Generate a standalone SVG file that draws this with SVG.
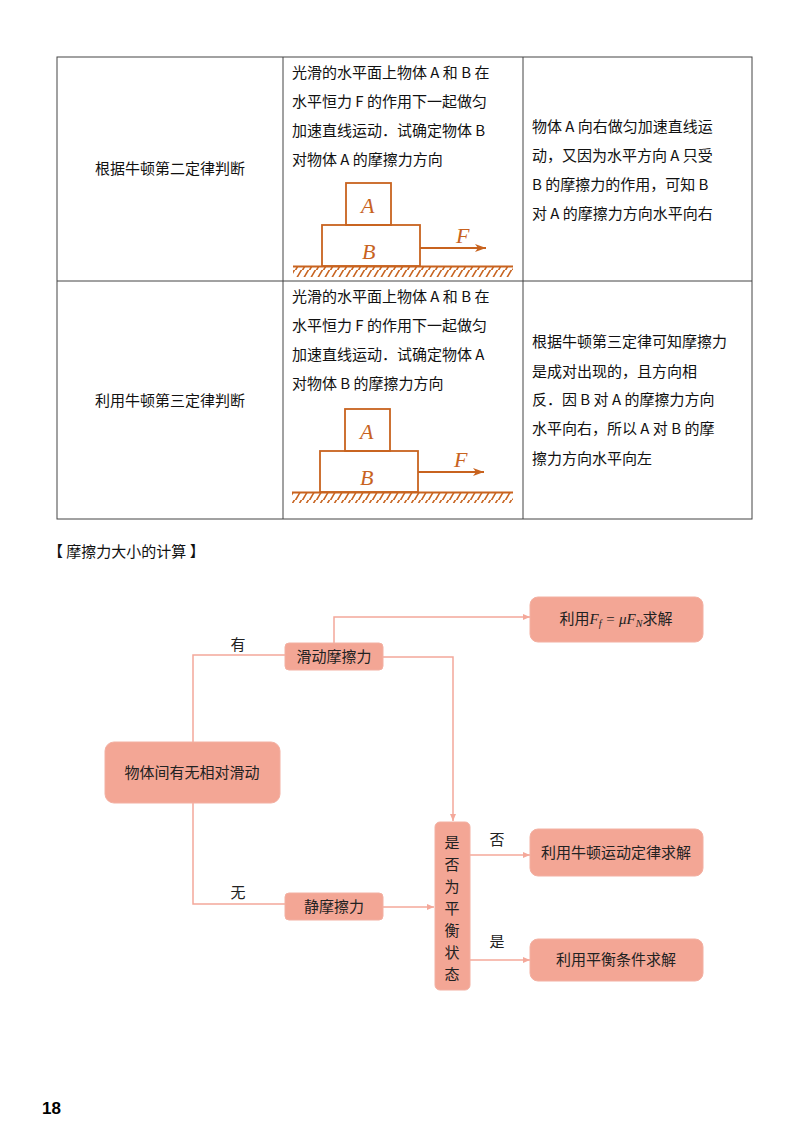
<svg xmlns="http://www.w3.org/2000/svg" width="800" height="1130" viewBox="0 0 800 1130">
<defs>
<style>
.t{font-family:"Noto Sans CJK SC","Liberation Sans",sans-serif;font-size:15px;fill:#111}
.hw{font-family:"Noto Sans CJK SC",sans-serif;font-size:15px;fill:#222}
.box{fill:#f3a695;stroke:#f3b0a2;stroke-width:1}
.ln{fill:none;stroke:#f4a89a;stroke-width:1.5}
.or{fill:none;stroke:#c8631f;stroke-width:1.8}
.it{font-family:"Liberation Serif",serif;font-style:italic;font-size:22px;fill:#c8631f}
.tb{fill:none;stroke:#444;stroke-width:1}
</style>
<marker id="ar" markerWidth="8" markerHeight="8" refX="7" refY="4" orient="auto" markerUnits="userSpaceOnUse"><path d="M0,1 L7,4 L0,7 Z" fill="#f4a89a"/></marker>
<marker id="oa" markerWidth="12" markerHeight="10" refX="11" refY="5" orient="auto" markerUnits="userSpaceOnUse"><path d="M0,1 L11,5 L0,9 L3,5 Z" fill="#c8631f"/></marker>
<pattern id="hatch" width="7" height="10" patternUnits="userSpaceOnUse"><path d="M8,-1 L1,11 M1,-1 L-6,11" stroke="#c8631f" stroke-width="1.6"/></pattern>
</defs>
<rect width="800" height="1130" fill="#fff"/>
<g id="table">
<rect class="tb" x="57" y="57" width="695" height="462"/>
<line class="tb" x1="57" y1="281" x2="752" y2="281"/>
<line class="tb" x1="283" y1="57" x2="283" y2="519"/>
<line class="tb" x1="523" y1="57" x2="523" y2="519"/>
<text class="t" x="170" y="174" text-anchor="middle">根据牛顿第二定律判断</text>
<text class="t" x="170" y="406" text-anchor="middle">利用牛顿第三定律判断</text>
<text class="t" x="292" y="78">光滑的水平面上物体 A 和 B 在</text>
<text class="t" x="292" y="107">水平恒力 F 的作用下一起做匀</text>
<text class="t" x="292" y="136">加速直线运动．试确定物体 B</text>
<text class="t" x="292" y="165">对物体 A 的摩擦力方向</text>
<text class="t" x="532" y="132">物体 A 向右做匀加速直线运</text>
<text class="t" x="532" y="161">动，又因为水平方向 A 只受</text>
<text class="t" x="532" y="190">B 的摩擦力的作用，可知 B</text>
<text class="t" x="532" y="219">对 A 的摩擦力方向水平向右</text>
<text class="t" x="292" y="302">光滑的水平面上物体 A 和 B 在</text>
<text class="t" x="292" y="331">水平恒力 F 的作用下一起做匀</text>
<text class="t" x="292" y="360">加速直线运动．试确定物体 A</text>
<text class="t" x="292" y="389">对物体 B 的摩擦力方向</text>
<text class="t" x="532" y="347">根据牛顿第三定律可知摩擦力</text>
<text class="t" x="532" y="377">是成对出现的，且方向相</text>
<text class="t" x="532" y="405">反．因 B 对 A 的摩擦力方向</text>
<text class="t" x="532" y="434">水平向右，所以 A 对 B 的摩</text>
<text class="t" x="532" y="464">擦力方向水平向左</text>
</g>
<g id="fig1">
<rect class="or" x="346" y="183" width="45" height="42"/>
<rect class="or" x="322" y="225" width="98" height="41"/>
<rect x="293" y="267" width="220" height="10" fill="url(#hatch)"/>
<line class="or" x1="293" y1="266.5" x2="513" y2="266.5"/>
<line class="or" x1="420" y1="248" x2="486" y2="248" marker-end="url(#oa)"/>
<text class="it" x="361" y="213">A</text>
<text class="it" x="362" y="259">B</text>
<text class="it" x="456" y="243">F</text>
</g>
<g id="fig2">
<rect class="or" x="345" y="409" width="45" height="42"/>
<rect class="or" x="320" y="451" width="98" height="41"/>
<rect x="292" y="493" width="221" height="10" fill="url(#hatch)"/>
<line class="or" x1="292" y1="492.5" x2="513" y2="492.5"/>
<line class="or" x1="418" y1="472" x2="484" y2="472" marker-end="url(#oa)"/>
<text class="it" x="360" y="439">A</text>
<text class="it" x="360" y="485">B</text>
<text class="it" x="454" y="467">F</text>
</g>
<text class="t" x="48" y="557">【 摩擦力大小的计算 】</text>
<g id="connectors">
<polyline class="ln" points="193,742 193,655 285,655"/>
<polyline class="ln" points="193,803 193,904 285,904"/>
<polyline class="ln" points="334,643 334,617 530,617" marker-end="url(#ar)"/>
<polyline class="ln" points="383,657 453,657 453,821" marker-end="url(#ar)"/>
<line class="ln" x1="383" y1="907" x2="434" y2="907" marker-end="url(#ar)"/>
<line class="ln" x1="470" y1="855" x2="530" y2="855" marker-end="url(#ar)"/>
<line class="ln" x1="470" y1="960" x2="530" y2="960" marker-end="url(#ar)"/>
<text class="hw" x="238" y="650" text-anchor="middle">有</text>
<text class="hw" x="238" y="898" text-anchor="middle">无</text>
<text class="hw" x="497" y="845" text-anchor="middle">否</text>
<text class="hw" x="497" y="947" text-anchor="middle">是</text>
</g>
<g id="n-main"><rect class="box" x="105" y="742" width="175" height="61" rx="9"/><text class="hw" x="192" y="778" text-anchor="middle" font-size="17">物体间有无相对滑动</text></g>
<g id="n-slide"><rect class="box" x="285" y="643" width="98" height="27" rx="4"/><text class="hw" x="334" y="662" text-anchor="middle">滑动摩擦力</text></g>
<g id="n-static"><rect class="box" x="285" y="893" width="98" height="27" rx="4"/><text class="hw" x="334" y="912" text-anchor="middle">静摩擦力</text></g>
<g id="n-ff"><rect class="box" x="530" y="597" width="173" height="45" rx="8"/><text class="hw" x="616" y="624" text-anchor="middle">利用<tspan font-family="Liberation Serif,serif" font-style="italic">F<tspan font-size="10" dy="3">f</tspan><tspan dy="-3"> = μF</tspan><tspan font-size="10" dy="3">N</tspan></tspan><tspan dy="-3">求解</tspan></text></g>
<g id="n-judge"><rect class="box" x="435" y="822" width="35" height="168" rx="5"/>
<text class="hw" text-anchor="middle" font-size="17"><tspan x="452" y="848">是</tspan><tspan x="452" y="870">否</tspan><tspan x="452" y="892">为</tspan><tspan x="452" y="914">平</tspan><tspan x="452" y="936">衡</tspan><tspan x="452" y="958">状</tspan><tspan x="452" y="980">态</tspan></text></g>
<g id="n-newton"><rect class="box" x="530" y="829" width="173" height="47" rx="8"/><text class="hw" x="616" y="858" text-anchor="middle">利用牛顿运动定律求解</text></g>
<g id="n-bal"><rect class="box" x="530" y="939" width="173" height="42" rx="8"/><text class="hw" x="616" y="965" text-anchor="middle">利用平衡条件求解</text></g>
<text x="42" y="1114" font-family="Liberation Sans,sans-serif" font-weight="bold" font-size="17" fill="#000">18</text>
</svg>
